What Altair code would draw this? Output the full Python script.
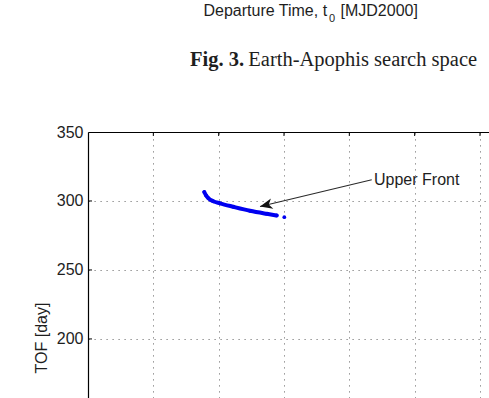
import altair as alt
import pandas as pd

# ---- data ----
front_t0 = [3478.0, 3480.6, 3484.1, 3491.8, 3502.0, 3522.4, 3548.0, 3573.5, 3588.8]
front_tof = [306.5, 304.1, 302.1, 299.8, 298.3, 295.8, 292.9, 290.7, 289.5]
tail_t0 = [3600.5]
tail_tof = [288.3]

x_ticks = [3300, 3400, 3500, 3600, 3700, 3800, 3900]
y_ticks = [200, 250, 300, 350]
x_domain = [3300, 3913.8]
y_domain = [157.2, 350]

note_text = ["Upper Front"]
note_t0 = [3737.8]
note_tof = [314.9]
arrow_start_t0 = [3734.3]
arrow_start_tof = [315.4]
arrow_tip_t0 = [3563.3]
arrow_tip_tof = [296.0]

FONT = "Liberation Sans"
SERIF = "Liberation Serif"
BLUE = "#0000f0"
TXT = "#1e1e1e"

xs = alt.Scale(domain=x_domain, nice=False, zero=False)
ys = alt.Scale(domain=y_domain, nice=False, zero=False)

front = pd.DataFrame({"t0": front_t0, "tof": front_tof})
tail = pd.DataFrame({"t0": tail_t0, "tof": tail_tof})

x_axis = alt.Axis(orient="top", values=x_ticks, labels=False, ticks=False, domain=True,
                  domainColor="#000", domainWidth=1.2, grid=True, gridColor="#7a7a7a",
                  gridDash=[1.2, 4.8], gridWidth=1, title=None)
y_axis = alt.Axis(orient="left", values=y_ticks, ticks=False, domain=True, domainColor="#000",
                  domainWidth=1.2, grid=True, gridColor="#7a7a7a", gridDash=[1.2, 4.8], gridWidth=1,
                  labelFont=FONT, labelFontSize=16, labelColor=TXT, labelPadding=5,
                  title="TOF [day]", titleFont=FONT, titleFontSize=16, titleFontWeight="normal",
                  titleColor=TXT, titleAngle=270, titleAlign="center", titleBaseline="middle",
                  titleX=-47, titleY=205.5)

X = alt.X("t0:Q", scale=xs, axis=x_axis)
Y = alt.Y("tof:Q", scale=ys, axis=y_axis)

line = alt.Chart(front).mark_line(color=BLUE, strokeWidth=4, strokeCap="round",
                                  strokeJoin="round", interpolate="monotone").encode(x=X, y=Y)
dots = alt.Chart(pd.concat([front, tail])).mark_circle(color=BLUE, size=14, opacity=1).encode(x=X, y=Y)

arrow_df = pd.DataFrame({"t0": arrow_start_t0, "tof": arrow_start_tof,
                         "t1": arrow_tip_t0, "tof1": arrow_tip_tof})
arrow = alt.Chart(arrow_df).mark_rule(color="#2a2a2a", strokeWidth=1.1).encode(
    x=X, y=Y, x2="t1:Q", y2="tof1:Q",
)
head = alt.Chart(pd.DataFrame({"t0": arrow_tip_t0, "tof": arrow_tip_tof})).mark_point(
    shape="M0,0 L1,-0.42 L0.72,0 L1,0.42 Z", filled=True, color="#111", size=620,
    angle=346.6, opacity=1, strokeWidth=0,
).encode(x=X, y=Y)

note = alt.Chart(pd.DataFrame({"t0": note_t0, "tof": note_tof, "txt": note_text})).mark_text(
    align="left", baseline="middle", font=FONT, fontSize=16, color=TXT,
).encode(x=X, y=Y, text="txt:N")

top_ticks = alt.Chart(pd.DataFrame({"t0": x_ticks[1:]})).mark_rule(color="#000", strokeWidth=1).encode(
    x=X, y=alt.value(0), y2=alt.value(4))
left_ticks = alt.Chart(pd.DataFrame({"tof": y_ticks[:-1]})).mark_rule(color="#000", strokeWidth=1).encode(
    y=Y, x=alt.value(0), x2=alt.value(4))

# text above the plot (end of the previous figure and its caption)
def label(txt, px, py, size, font, weight="normal"):
    return alt.Chart(pd.DataFrame({"txt": [txt]})).mark_text(
        align="left", baseline="alphabetic", font=font, fontSize=size, fontWeight=weight, color=TXT,
    ).encode(x=alt.value(px), y=alt.value(py), text="txt:N")

texts = [
    label("Departure Time, t", 115.5, -116, 16, FONT),
    label("0", 241.0, -110.5, 11, FONT),
    label("[MJD2000]", 252.5, -116, 16, FONT),
    label("Fig. 3.", 102, -66.5, 20.5, SERIF, "bold"),
    label("Earth-Apophis search space", 160.3, -66.5, 20.5, SERIF),
]

chart = alt.layer(line, dots, arrow, head, note, top_ticks, left_ticks, *texts).properties(
    width=401, height=266,
    autosize=alt.AutoSizeParams(type="none"),
    padding={"left": 88, "top": 132, "right": 0, "bottom": 0},
).configure_view(stroke=None).configure(background="white")

chart.save("out.html", embed_options={"renderer": "svg", "actions": False})
